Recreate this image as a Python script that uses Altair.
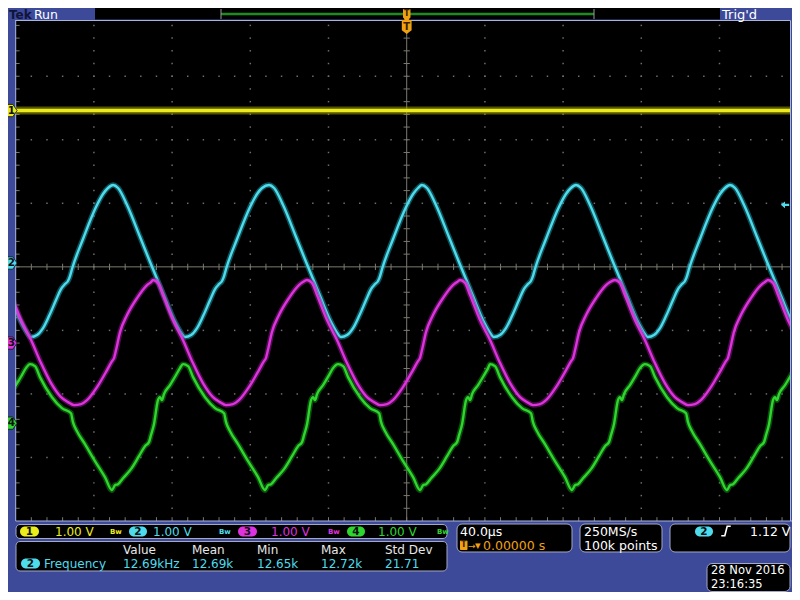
import altair as alt
import pandas as pd
import numpy as np

# ------------------------------------------------------------------
# Waveform data (40.0 us/div, 1.00 V/div).
# Each trace: one cycle as (us after that trace's peak, volts from its ground marker)
# and the times (us) at which its peaks appear on screen.
# ------------------------------------------------------------------
ch2_cycle_t = [0, 2.56, 7.16, 13.81, 18.93, 26.09, 31.71, 34.27, 36.83, 39.90, 42.97,
               46.04, 49.62, 52.17, 54.22, 55.75, 56.78, 57.80, 63.43, 70.08, 73.66, 76.21]
ch2_cycle_v = [1.228, 1.181, 0.913, 0.409, 0.016, -0.520, -0.929, -1.071, -1.165, -1.134, -1.024,
               -0.835, -0.583, -0.409, -0.331, -0.283, -0.205, -0.094, 0.378, 0.882, 1.087, 1.181]
ch2_peaks_us = [-229.0, -150.2, -70.4, 7.8, 86.6, 165.4]

ch3_cycle_t = [0, 2.56, 5.12, 10.23, 15.35, 20.46, 25.58, 30.69, 34.27, 37.34, 40.92,
               43.99, 49.10, 54.22, 56.78, 57.80, 58.82, 60.87, 64.45, 69.56, 74.68, 76.73]
ch3_cycle_v = [0.992, 0.945, 0.756, 0.362, 0.047, -0.315, -0.630, -0.850, -0.929, -0.976, -0.961,
               -0.898, -0.693, -0.425, -0.283, -0.236, -0.110, 0.173, 0.441, 0.709, 0.913, 0.961]
ch3_peaks_us = [-207.5, -129.8, -51.0, 27.3, 106.5, 184.8]

ch4_cycle_t = [0, 2.56, 5.12, 11.25, 16.37, 20.97, 21.99, 24.04, 28.13, 33.25, 38.36, 41.94,
               43.48, 45.01, 47.57, 51.66, 55.75, 58.82, 60.87, 61.89, 63.43, 65.47, 66.50,
               67.52, 68.54, 71.61, 74.68, 76.73]
ch4_cycle_v = [0.929, 0.898, 0.724, 0.409, 0.236, 0.157, 0.016, -0.126, -0.331, -0.598, -0.850, -1.055,
               -0.976, -0.961, -0.866, -0.724, -0.520, -0.362, -0.299, -0.189, -0.016, 0.362, 0.409,
               0.362, 0.457, 0.598, 0.756, 0.866]
ch4_peaks_us = [-271.5, -192.7, -114.4, -35.1, 42.6, 121.9, 200.8]

ch1_t = [-200, 200]
ch1_v = [0.0, 0.0]

# ground-marker positions (divisions from screen centre)
ground_div = {"1": 2.46, "2": 0.06, "3": -1.20, "4": -2.46}

# readouts
channel_labels = ["1", "2", "3", "4"]
channel_scale = ["1.00 V", "1.00 V", "1.00 V", "1.00 V"]
meas_headers = ["Value", "Mean", "Min", "Max", "Std Dev"]
meas_values = ["12.69kHz", "12.69k", "12.65k", "12.72k", "21.71"]
timebase = "40.0µs"
trig_pos = "0.00000 s"
sample_rate = "250MS/s"
record_len = "100k points"
trig_level = "1.12 V"
date_str = "28 Nov 2016"
time_str = "23:16:35"

# ------------------------------------------------------------------
COL = {"1": "#ecec1c", "2": "#4edcec", "3": "#de32de", "4": "#2ed62e"}
GLOW = {"1": "#a8a800", "2": "#1f9fb0", "3": "#9a1c9a", "4": "#189818"}
BLUE = "#3d4a9a"
FONT = "DejaVu Sans"
W, H = 784, 584          # page is exactly 800 x 600 with the 8px body margin
ONE = pd.DataFrame({"k": [0]})


def P(x):  # screen x -> chart x
    return x - 8


def Q(y):  # screen y -> chart y
    return y - 8


XS = alt.Scale(domain=[-200, 200], range=[P(15.7), P(797.7)], nice=False, zero=False)
YS = alt.Scale(domain=[-4, 4], range=[Q(521), Q(12.7)], nice=False, zero=False)


def X(f="t"):
    return alt.X(f"{f}:Q", scale=XS, axis=None)


def Y(f="v"):
    return alt.Y(f"{f}:Q", scale=YS, axis=None)


def box(x1, y1, x2, y2, fill, stroke=None, r=0, sw=1.0):
    kw = dict(fill=fill, cornerRadius=r)
    if stroke:
        kw.update(stroke=stroke, strokeWidth=sw)
    else:
        kw.update(strokeWidth=0)
    return alt.Chart(ONE).mark_rect(**kw).encode(
        x=alt.value(P(x1)), x2=alt.value(P(x2)), y=alt.value(Q(y1)), y2=alt.value(Q(y2)))


def label(x, y, s, color, size=12, weight="normal", align="left"):
    return alt.Chart(ONE).mark_text(text=s, color=color, fontSize=size, fontWeight=weight,
                                    align=align, baseline="middle", font=FONT).encode(
        x=alt.value(P(x)), y=alt.value(Q(y)))


layers = []

# graticule background
grat = pd.DataFrame({"t": [-200], "t2": [200], "v": [-4], "v2": [4]})
layers.append(alt.Chart(grat).mark_rect(fill="black", strokeWidth=0).encode(
    x=X(), x2="t2:Q", y=Y(), y2="v2:Q"))

# dotted grid
dots = []
for tt in [-160, -120, -80, -40, 40, 80, 120, 160]:
    for vv in np.round(np.arange(-3.8, 3.81, 0.2), 2):
        dots.append((tt, vv))
for vv in [-3, -2, -1, 1, 2, 3]:
    for tt in np.arange(-192, 193, 8):
        dots.append((tt, vv))
dots = pd.DataFrame(dots, columns=["t", "v"])
layers.append(alt.Chart(dots).mark_square(size=2.2, color="#6e6e6e", opacity=1).encode(x=X(), y=Y()))

# centre cross + ticks + edge ticks
seg = [(-200, 200, 0, 0), (0, 0, -4, 4)]
for tt in np.arange(-192, 193, 8):
    if tt != 0:
        seg.append((tt, tt, -0.05, 0.05))
    seg.append((tt, tt, -4, -3.94))
    seg.append((tt, tt, 3.94, 4))
for vv in np.round(np.arange(-3.8, 3.81, 0.2), 2):
    if abs(vv) > 1e-9:
        seg.append((-1.6, 1.6, vv, vv))
    seg.append((-200, -198, vv, vv))
    seg.append((198, 200, vv, vv))
seg = pd.DataFrame(seg, columns=["t", "t2", "v", "v2"])
layers.append(alt.Chart(seg).mark_rule(color="#7a7a70", strokeWidth=1).encode(
    x=X(), x2="t2:Q", y=Y(), y2="v2:Q"))


def trace(ch, cyc_t, cyc_v, peaks):
    rows = []
    for p in peaks:
        for a, b in zip(cyc_t, cyc_v):
            rows.append((p + a, b + ground_div[ch]))
    return pd.DataFrame(rows, columns=["t", "v"]).sort_values("t")


traces = {
    "1": pd.DataFrame({"t": ch1_t, "v": [v + ground_div["1"] for v in ch1_v]}),
    "2": trace("2", ch2_cycle_t, ch2_cycle_v, ch2_peaks_us),
    "3": trace("3", ch3_cycle_t, ch3_cycle_v, ch3_peaks_us),
    "4": trace("4", ch4_cycle_t, ch4_cycle_v, ch4_peaks_us),
}
for ch in ["1", "2", "3", "4"]:
    gw, cw = (8, 3.6) if ch == "1" else (5.5, 2.4)
    base = alt.Chart(traces[ch])
    layers.append(base.mark_line(color=GLOW[ch], strokeWidth=gw, opacity=0.5,
                                 interpolate="monotone").encode(x=X(), y=Y()))
    layers.append(base.mark_line(color=COL[ch], strokeWidth=cw, opacity=1,
                                 interpolate="monotone").encode(x=X(), y=Y()))

# blue frame strips hiding trace overflow
layers.append(box(0, 0, 15.7, 600, BLUE))
layers.append(box(790.5, 0, 800, 600, BLUE))
layers.append(box(0, 521.3, 800, 600, BLUE))

# graticule border
layers.append(alt.Chart(grat).mark_rect(fillOpacity=0, stroke="#a9b4dc", strokeWidth=1).encode(
    x=X(), x2="t2:Q", y=Y(), y2="v2:Q"))
layers.append(alt.Chart(ONE).mark_rule(color="#a9b4dc", strokeWidth=1).encode(
    x=alt.value(P(790.5)), y=alt.value(Q(20.5)), y2=alt.value(Q(521))))

# top status bar
layers.append(box(0, 8, 800, 20, BLUE))
layers.append(alt.Chart(ONE).mark_rule(color="#a9b4dc", strokeWidth=1).encode(
    x=alt.value(P(15.7)), x2=alt.value(P(790.5)), y=alt.value(Q(20.5))))
layers.append(box(95, 8, 720, 19.5, "black"))
layers.append(alt.Chart(ONE).mark_rule(color="#1f8a22", strokeWidth=2.5).encode(
    x=alt.value(P(221)), x2=alt.value(P(594)), y=alt.value(Q(14))))
for bx in [221, 594]:
    layers.append(alt.Chart(ONE).mark_rule(color="#9a9a9a", strokeWidth=1).encode(
        x=alt.value(P(bx)), y=alt.value(Q(9)), y2=alt.value(Q(19))))
layers.append(label(9, 14.5, "Tek", "#10143a", size=12, weight="bold"))
layers.append(label(34, 14.5, "Run", "white", size=12.5))
layers.append(label(722, 14.5, "Trig'd", "white", size=13))
# trigger position markers
layers.append(box(403, 9, 410.5, 18, "#f0a010", r=1))
layers.append(label(406.7, 13.5, "T", "#3a2000", size=8, weight="bold", align="center"))
tri_down = "M-1,-1 L1,-1 L0,1 Z"
layers.append(alt.Chart(ONE).mark_point(shape=tri_down, filled=True, color="#f0a010", size=40,
                                        opacity=1).encode(x=alt.value(P(406.7)), y=alt.value(Q(21))))
pent_down = "M-0.7,-1 L0.7,-1 L0.7,0.45 L0,1 L-0.7,0.45 Z"
layers.append(alt.Chart(ONE).mark_point(shape=pent_down, filled=True, color="#f0a010", size=196,
                                        opacity=1).encode(x=alt.value(P(406.7)), y=alt.value(Q(27))))
layers.append(label(406.7, 26.5, "T", "#3a2000", size=10, weight="bold", align="center"))

# channel ground markers (left)
pent_right = "M-1,-1 L0.3,-1 L1,0 L0.3,1 L-1,1 Z"
mk = pd.DataFrame({"ch": channel_labels, "v": [ground_div[c] for c in channel_labels]})
for c in channel_labels:
    d = mk[mk.ch == c]
    layers.append(alt.Chart(d).mark_point(shape=pent_right, filled=True, color=COL[c], size=150,
                                          opacity=1, stroke="#101010", strokeWidth=0.8).encode(
        x=alt.value(P(11)), y=Y()))
    layers.append(alt.Chart(d).mark_text(text=c, color="#101010", fontSize=10.5, fontWeight="bold",
                                         font=FONT, align="center", baseline="middle").encode(
        x=alt.value(P(11.5)), y=Y()))

# trigger level arrow (right)
arrow_left = "M-1,0 L0,-0.8 L0,-0.25 L1,-0.25 L1,0.25 L0,0.25 L0,0.8 Z"
lvl = pd.DataFrame({"t": [193.5], "v": [0.976]})
layers.append(alt.Chart(lvl).mark_point(shape=arrow_left, filled=True, color=COL["2"], size=70,
                                        opacity=1).encode(x=X(), y=Y()))

# ---------------- bottom readouts ----------------
EDGE = "#a4a8c4"
layers.append(box(16, 524.5, 447, 538.5, "black", EDGE, r=4))
pill_x = [(20, 39), (129, 147), (238, 257), (347, 365)]
txt_x = [55, 153, 271, 378]
icon_x = [110, 219, 328, 437]
for c, (a, b), tx, ix, s in zip(channel_labels, pill_x, txt_x, icon_x, channel_scale):
    layers.append(box(a, 526.5, b, 536.5, COL[c], r=5))
    layers.append(label((a + b) / 2, 531.7, c, "#101010", size=10.5, weight="bold", align="center"))
    layers.append(label(tx, 531.7, s, COL[c], size=12))
    layers.append(label(ix, 531.5, "Bw", COL[c], size=7, weight="bold"))

layers.append(box(16, 541.5, 447, 571, "black", EDGE, r=4))
col_x = [123, 192, 257, 321, 385]
for hx, hs, vs in zip(col_x, meas_headers, meas_values):
    layers.append(label(hx, 549.5, hs, "#e6e6e6", size=12))
    layers.append(label(hx, 563.5, vs, COL["2"], size=12))
layers.append(box(21, 558.5, 40, 568.5, COL["2"], r=5))
layers.append(label(30.5, 563.7, "2", "#101010", size=10.5, weight="bold", align="center"))
layers.append(label(44, 563.5, "Frequency", COL["2"], size=12))

# timebase
layers.append(box(457, 524, 572, 552, "black", EDGE, r=5))
layers.append(label(460, 531.5, timebase, "white", size=12.5))
layers.append(box(460, 540.5, 467.5, 550, "#f0a010", r=1))
layers.append(label(463.7, 545.3, "T", "#3a2000", size=8, weight="bold", align="center"))
layers.append(label(468, 545.5, "→", "#f0a010", size=9))
layers.append(label(475, 545.5, "▾", "#f0a010", size=11))
layers.append(label(483, 545.5, trig_pos, "#f0a010", size=12.5))

# acquisition
layers.append(box(580, 524, 662, 552, "black", EDGE, r=5))
layers.append(label(584, 531.5, sample_rate, "white", size=12.5))
layers.append(label(584, 545.5, record_len, "white", size=12.5))

# trigger
layers.append(box(670, 524, 790, 552, "black", EDGE, r=5))
layers.append(box(695, 526.5, 713, 536.5, COL["2"], r=5))
layers.append(label(704, 531.7, "2", "#101010", size=10.5, weight="bold", align="center"))
slope = "M-1,1 L-0.25,1 L0.25,-1 L1,-1"
layers.append(alt.Chart(ONE).mark_point(shape=slope, filled=False, color="white", size=90,
                                        strokeWidth=1.6, opacity=1).encode(
    x=alt.value(P(726)), y=alt.value(Q(531))))
layers.append(label(750, 531.5, trig_level, "white", size=12.5))

# date
layers.append(box(707, 563.5, 790, 591.5, "black", EDGE, r=5))
layers.append(label(711, 570.5, date_str, "white", size=11.5))
layers.append(label(711, 584.5, time_str, "white", size=11.5))

chart = alt.layer(*layers).properties(
    width=W, height=H, autosize=alt.AutoSizeParams(type="none"), padding=0, background=BLUE
).configure_view(stroke=None)

chart.save("out.html", embed_options={"renderer": "svg", "actions": False})
